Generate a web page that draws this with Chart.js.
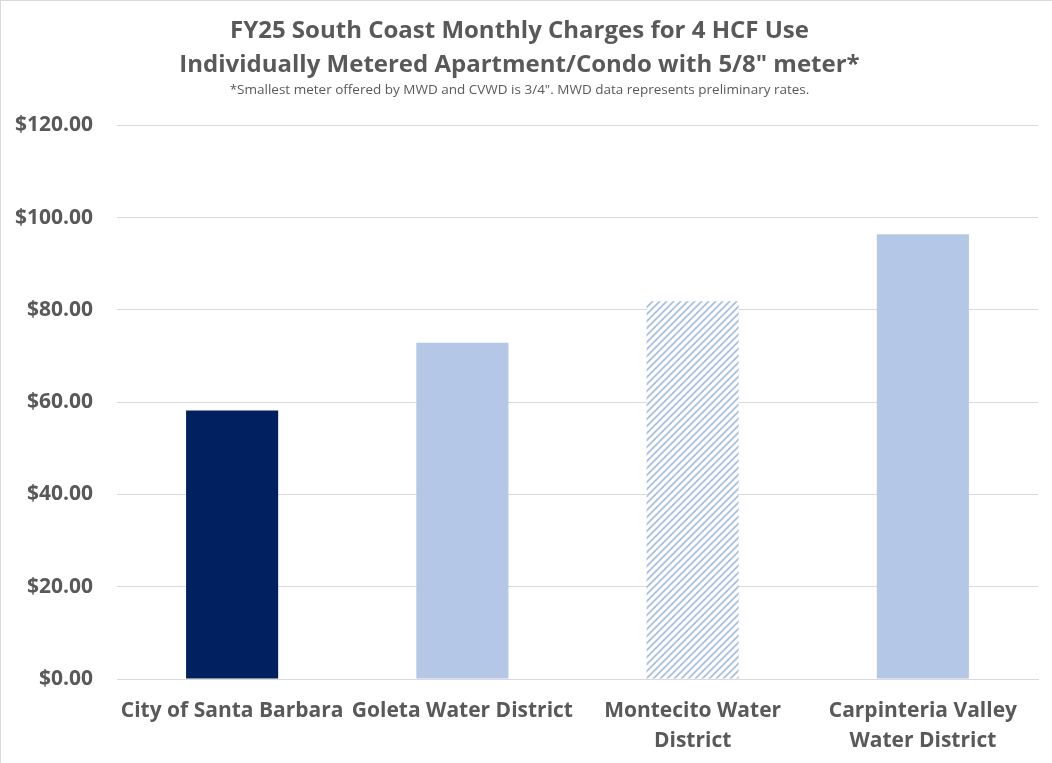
<!DOCTYPE html>
<html>
<head>
<meta charset="utf-8">
<script src="https://cdn.jsdelivr.net/npm/chart.js@4.4.1/dist/chart.umd.min.js"></script>
<style>
  html, body { margin: 0; padding: 0; background: #ffffff; }
  #wrap { position: relative; width: 1052px; height: 763px; box-sizing: border-box; border-left: 1px solid #d9d9d9; border-top: 1px solid #d9d9d9; }
</style>
</head>
<body>
<div id="wrap"><canvas id="c"></canvas></div>
<script>
const categories = [
  "City of Santa Barbara",
  "Goleta Water District",
  ["Montecito Water", "District"],
  ["Carpinteria Valley", "Water District"]
];
const charges = [58.2, 72.9, 81.9, 96.4];
const titleLines = [
  "FY25 South Coast Monthly Charges for 4 HCF Use",
  "Individually Metered Apartment/Condo with 5/8\" meter*"
];
const subtitleText = "*Smallest meter offered by MWD and CVWD is 3/4\". MWD data represents preliminary rates.";

const FONT = "'Open Sans', Lato, sans-serif";
const TEXT = "#595959";

function hatch() {
  const s = 7;
  const c = document.createElement("canvas");
  c.width = s; c.height = s;
  const g = c.getContext("2d");
  g.fillStyle = "#ffffff";
  g.fillRect(0, 0, s, s);
  g.strokeStyle = "#a9c0e3";
  g.lineWidth = 1.8;
  g.beginPath();
  g.moveTo(-1, s + 1); g.lineTo(s + 1, -1);
  g.moveTo(-1, 1); g.lineTo(1, -1);
  g.moveTo(s - 1, s + 1); g.lineTo(s + 1, s - 1);
  g.stroke();
  return g.createPattern(c, "repeat");
}

const colors = ["#002060", "#b4c7e7", hatch(), "#b4c7e7"];

new Chart(document.getElementById("c"), {
  type: "bar",
  data: {
    labels: categories,
    datasets: [{
      data: charges,
      backgroundColor: colors,
      borderWidth: 0,
      categoryPercentage: 1.0,
      barPercentage: 0.4
    }]
  },
  options: {
    responsive: true,
    maintainAspectRatio: false,
    animation: false,
    layout: { padding: { left: 0, right: 14, top: 0, bottom: 0 } },
    plugins: {
      legend: { display: false },
      tooltip: { enabled: false },
      title: {
        display: true,
        text: titleLines,
        color: TEXT,
        font: { family: FONT, size: 24, weight: "bold", lineHeight: 1.42 },
        padding: { top: 13, bottom: 0 }
      },
      subtitle: {
        display: true,
        text: subtitleText,
        color: TEXT,
        font: { family: FONT, size: 13.5, weight: "normal", lineHeight: 1.2 },
        padding: { top: 0, bottom: 27 }
      }
    },
    scales: {
      y: {
        min: 0,
        max: 120,
        afterFit: s => { s.width = 116; },
        ticks: {
          stepSize: 20,
          color: TEXT,
          padding: 24,
          font: { family: FONT, size: 21, weight: "bold" },
          callback: v => "$" + Number(v).toFixed(2)
        },
        grid: { color: "#d9d9d9", lineWidth: 1, drawTicks: false },
        border: { display: false }
      },
      x: {
        afterFit: s => { s.height = 84; },
        ticks: {
          color: TEXT,
          padding: 17,
          maxRotation: 0,
          autoSkip: false,
          font: { family: FONT, size: 21, weight: "bold", lineHeight: 1.43 }
        },
        grid: { display: false, drawTicks: false },
        border: { display: true, color: "#d9d9d9", width: 1 }
      }
    }
  }
});
</script>
</body>
</html>
